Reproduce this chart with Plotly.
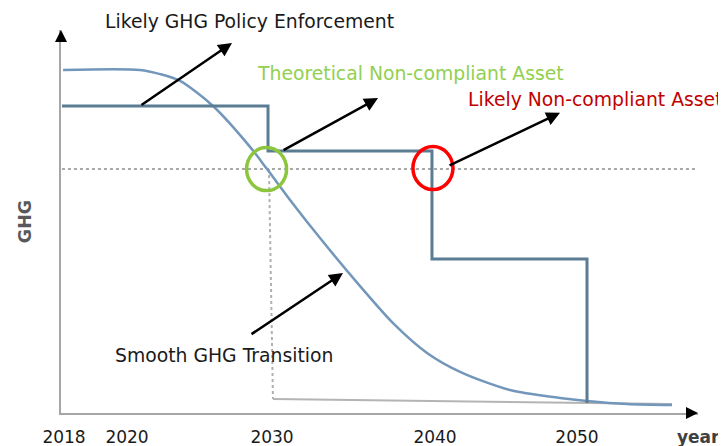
import plotly.graph_objects as go

# schematic axes: x in years, y in relative GHG (plateau = 100)
tick_pos = [2017.21, 2021.16, 2030.25, 2040.47, 2049.37]
tick_text = ['2018', '2020', '2030', '2040', '2050']

curve_year = [2017.15, 2021.97, 2023.23, 2024.48, 2026.55, 2028.87, 2029.94, 2031.38, 2033.26,
              2035.77, 2037.84, 2039.97, 2042.04, 2045.17, 2048.31, 2050.0, 2052.51, 2055.33]
curve_ghg = [100.0, 100.0, 98.8, 96.8, 89.5, 77.6, 71.1, 62.1, 51.0,
             37.0, 26.2, 17.5, 12.0, 6.7, 4.4, 3.5, 2.6, 2.3]

policy_year = [2017.08, 2030.0, 2040.28, 2050.0]
policy_ghg = [89.5, 76.4, 44.9, 2.9]

threshold_ghg = 71.1
threshold_year = [2017.08, 2057.6]
drop_year = [2030.06, 2030.31]
drop_ghg = [71.1, 4.1]
floor_year = [2030.31, 2055.33]
floor_ghg = [4.1, 2.6]

circle_year = [2029.91, 2040.34]
circle_ghg = [71.1, 71.4]
circle_color = ['#8CC63F', '#FF0000']

labels = ['Likely GHG Policy Enforcement', 'Theoretical Non-compliant Asset',
          'Likely Non-compliant Asset', 'Smooth GHG Transition']
label_year = [2019.66, 2029.18, 2042.41, 2020.28]
label_ghg = [114.0, 99.1, 91.3, 16.9]
label_color = ['#1a1a1a', '#92D050', '#C00000', '#1a1a1a']

arrow_tail_year = [2021.97, 2030.88, 2041.29, 2028.87]
arrow_tail_ghg = [89.5, 76.4, 72.0, 22.7]
arrow_head_year = [2027.74, 2036.90, 2048.31, 2034.70]
arrow_head_ghg = [107.9, 91.8, 87.5, 40.8]

x_lo, x_hi = 2017.02, 2056.96
y_lo, y_hi = 0, 111.66

fig = go.Figure()
fig.add_trace(go.Scatter(x=threshold_year, y=[threshold_ghg] * 2, mode='lines',
                         line=dict(color='#A8A8A8', width=2, dash='dot'), hoverinfo='skip'))
fig.add_trace(go.Scatter(x=drop_year, y=drop_ghg, mode='lines',
                         line=dict(color='#B0B0B0', width=2, dash='dot'), hoverinfo='skip'))
fig.add_trace(go.Scatter(x=floor_year, y=floor_ghg, mode='lines',
                         line=dict(color='#B4B4B4', width=2), hoverinfo='skip'))
fig.add_trace(go.Scatter(x=curve_year, y=curve_ghg, mode='lines',
                         line=dict(color='#7397BA', width=2.5, shape='spline', smoothing=0.8)))
fig.add_trace(go.Scatter(x=policy_year, y=policy_ghg, mode='lines',
                         line=dict(color='#5A7D93', width=3, shape='hv')))

for cx, cy, col in zip(circle_year, circle_ghg, circle_color):
    fig.add_shape(type='circle', xref='x', yref='y', xsizemode='pixel', ysizemode='pixel',
                  xanchor=cx, yanchor=cy, x0=-20, x1=20, y0=-21.5, y1=21.5,
                  line=dict(color=col, width=3.5))

# labels placed via paper y so the top one may sit above the axis range
for t, x, y, c in zip(labels, label_year, label_ghg, label_color):
    fig.add_annotation(x=x, y=(y - y_lo) / (y_hi - y_lo), xref='x', yref='paper', text=t,
                       showarrow=False, xanchor='left', yanchor='middle',
                       font=dict(family='DejaVu Sans', size=18.8, color=c))

for tx, ty, hx, hy in zip(arrow_tail_year, arrow_tail_ghg, arrow_head_year, arrow_head_ghg):
    fig.add_annotation(x=hx, y=hy, ax=tx, ay=ty, xref='x', yref='y', axref='x', ayref='y',
                       text='', showarrow=True, arrowhead=2, arrowsize=1.1, arrowwidth=2.5,
                       arrowcolor='black', standoff=0, startstandoff=0)

# axis arrow heads
fig.add_annotation(x=x_lo, y=y_hi, ax=x_lo, ay=y_hi - 3.5, xref='x', yref='y', axref='x', ayref='y',
                   text='', showarrow=True, arrowhead=2, arrowsize=1.2, arrowwidth=2, arrowcolor='black')
fig.add_annotation(x=x_hi, y=0, ax=x_hi - 0.75, ay=0, xref='x', yref='y', axref='x', ayref='y',
                   text='', showarrow=True, arrowhead=2, arrowsize=1.2, arrowwidth=2, arrowcolor='black')

fig.add_annotation(x=1.0, y=-0.063, xref='paper', yref='paper', text='year', showarrow=False,
                   xanchor='center', yanchor='middle',
                   font=dict(family='DejaVu Sans', size=17, color='#404040', weight='bold'))

# page body has an 8px margin, so the figure is 8px smaller than the window
fig.update_layout(
    width=718, height=438,
    margin=dict(l=53, r=28, t=22, b=33),
    paper_bgcolor='white', plot_bgcolor='white',
    showlegend=False,
    font=dict(family='DejaVu Sans', color='#1a1a1a'),
)
fig.update_xaxes(range=[x_lo, x_hi], showgrid=False, zeroline=False, automargin=False,
                 showline=True, linecolor='#A6A6A6', linewidth=2,
                 tickvals=tick_pos, ticktext=tick_text, ticks='outside', ticklen=8,
                 tickcolor='rgba(0,0,0,0)', tickfont=dict(size=17, color='#1a1a1a'))
fig.update_yaxes(range=[y_lo, y_hi], showgrid=False, zeroline=False, automargin=False,
                 showline=True, linecolor='#A6A6A6', linewidth=2,
                 showticklabels=False, ticks='',
                 title=dict(text='GHG', standoff=23,
                            font=dict(family='DejaVu Sans', size=17.5, color='#595959', weight='bold')))

fig.write_html("out.html")
